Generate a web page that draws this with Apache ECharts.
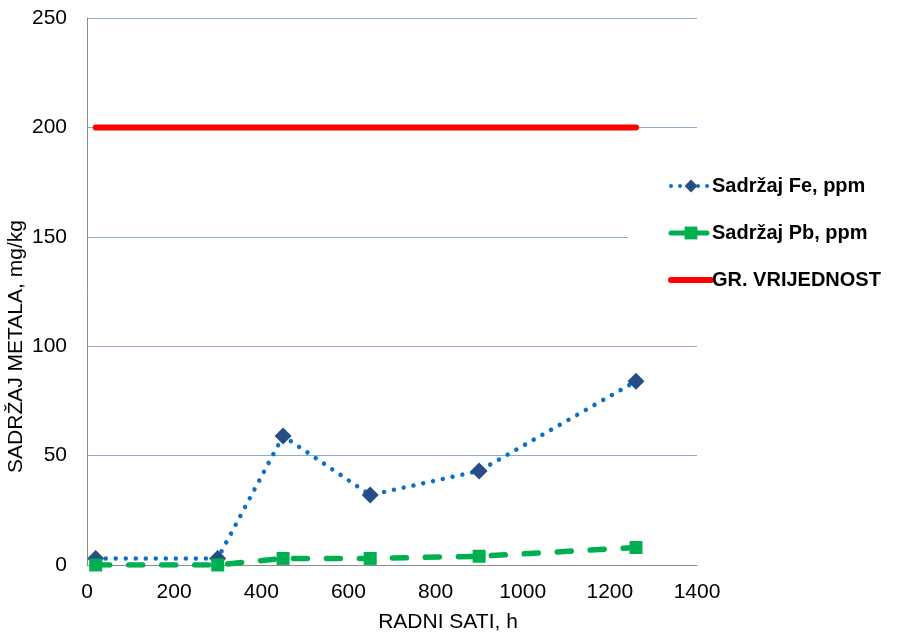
<!DOCTYPE html>
<html>
<head>
<meta charset="utf-8">
<script src="https://cdn.jsdelivr.net/npm/echarts@6/dist/echarts.min.js"></script>
<style>
html,body{margin:0;padding:0;background:#fff;}
#chart{width:900px;height:636px;}
</style>
</head>
<body>
<div id="chart"></div>
<script>
// Radni sati (h) and measured metal content
const hours = [20, 300, 450, 650, 900, 1260];
const feValues = [3, 3, 59, 32, 43, 84];
const pbValues = [0, 0, 3, 3, 4, 8];
const limitHours = [20, 1260];
const limitValues = [200, 200];

const seriesNames = ['Sadržaj Fe, ppm', 'Sadržaj Pb, ppm', 'GR. VRIJEDNOST'];

const pairs = (xs, ys) => xs.map((x, i) => [x, ys[i]]);

const chart = echarts.init(document.getElementById('chart'));
chart.setOption({
  animation: false,
  backgroundColor: '#fff',
  textStyle: { fontFamily: 'Liberation Sans, Arial, sans-serif' },
  grid: { left: 87, right: 203, top: 18, bottom: 71, containLabel: false, outerBoundsMode: 'none' },
  legend: {
    orient: 'vertical',
    left: 628,
    top: 170,
    itemGap: 27,
    itemWidth: 40,
    itemHeight: 16,
    padding: [6, 6, 6, 40],
    backgroundColor: '#fff',
    data: [
      { name: seriesNames[0], lineStyle: { width: 4, type: [0.01, 9], cap: 'round' } },
      { name: seriesNames[1], lineStyle: { width: 5, type: [14, 8], cap: 'round' } },
      // plain line key, no marker
      { name: seriesNames[2], itemStyle: { opacity: 0 }, lineStyle: { width: 6, cap: 'round' } }
    ],
    textStyle: { fontSize: 20, fontWeight: 'bold', color: '#000', padding: [0, 0, 0, -4] }
  },
  xAxis: {
    type: 'value',
    min: 0, max: 1400, interval: 200,
    name: 'RADNI SATI, h',
    nameLocation: 'middle',
    nameGap: 47,
    nameMoveOverlap: false,
    nameTextStyle: { fontSize: 21, color: '#000', padding: [0, 0, 0, 112] },
    axisLine: { show: true, lineStyle: { color: '#8c8c8c', width: 1 } },
    axisTick: { show: false },
    axisLabel: { fontSize: 21, color: '#000', margin: 17, formatter: v => String(v) },
    splitLine: { show: false }
  },
  yAxis: {
    type: 'value',
    min: 0, max: 250, interval: 50,
    name: 'SADRŽAJ METALA, mg/kg',
    nameLocation: 'middle',
    nameGap: 60,
    nameMoveOverlap: false,
    nameTextStyle: { fontSize: 21, color: '#000', padding: [0, 110, 0, 0] },
    axisLine: { show: true, lineStyle: { color: '#8c8c8c', width: 1 } },
    axisTick: { show: false },
    axisLabel: { fontSize: 21, color: '#000', margin: 20 },
    splitLine: { show: true, lineStyle: { color: '#8eaad3', width: 1 } }
  },
  series: [
    {
      name: seriesNames[0],
      type: 'line',
      data: pairs(hours, feValues),
      symbol: 'diamond',
      symbolSize: 17,
      itemStyle: { color: '#264d85' },
      lineStyle: { color: '#0a70c6', width: 4.5, type: [0.01, 10], cap: 'round' },
      z: 3
    },
    {
      name: seriesNames[1],
      type: 'line',
      data: pairs(hours, pbValues),
      symbol: 'rect',
      symbolSize: 13,
      itemStyle: { color: '#00b050' },
      lineStyle: { color: '#00b050', width: 5.5, type: [14, 19], cap: 'round' },
      z: 4
    },
    {
      name: seriesNames[2],
      type: 'line',
      data: pairs(limitHours, limitValues),
      symbol: 'none',
      itemStyle: { color: '#ff0000' },
      lineStyle: { color: '#ff0000', width: 6, cap: 'round' },
      z: 2
    }
  ]
});
</script>
</body>
</html>
